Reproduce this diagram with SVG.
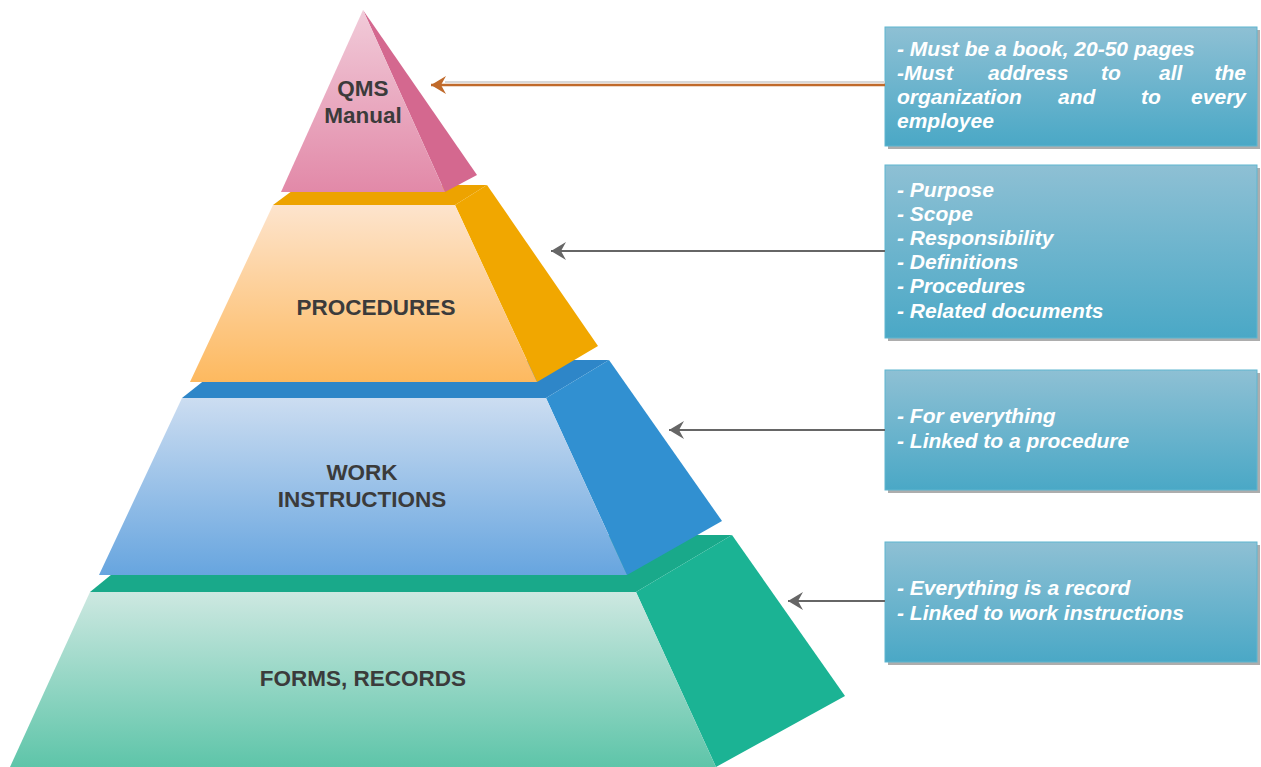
<svg xmlns="http://www.w3.org/2000/svg" width="1261" height="767" viewBox="0 0 1261 767">
  <defs>
    <linearGradient id="gPink" x1="0" y1="0" x2="0" y2="1">
      <stop offset="0" stop-color="#f1cbd9"/>
      <stop offset="1" stop-color="#e289a8"/>
    </linearGradient>
    <linearGradient id="gOrange" x1="0" y1="0" x2="0" y2="1">
      <stop offset="0" stop-color="#fde4cd"/>
      <stop offset="1" stop-color="#fdb95f"/>
    </linearGradient>
    <linearGradient id="gBlue" x1="0" y1="0" x2="0" y2="1">
      <stop offset="0" stop-color="#ccddf1"/>
      <stop offset="1" stop-color="#67a5df"/>
    </linearGradient>
    <linearGradient id="gGreen" x1="0" y1="0" x2="0" y2="1">
      <stop offset="0" stop-color="#cde8e1"/>
      <stop offset="1" stop-color="#5ec5a9"/>
    </linearGradient>
    <linearGradient id="gBox" x1="0" y1="0" x2="0" y2="1">
      <stop offset="0" stop-color="#8ec0d4"/>
      <stop offset="1" stop-color="#4aa8c6"/>
    </linearGradient>
    <marker id="arrGray" viewBox="0 0 20 20" refX="19" refY="10" markerWidth="20" markerHeight="20" markerUnits="userSpaceOnUse" orient="auto">
      <path d="M4,1 L19,10 L4,19 L9,10 Z" fill="#666666"/>
    </marker>
    <marker id="arrBrown" viewBox="0 0 20 20" refX="19" refY="10" markerWidth="20" markerHeight="20" markerUnits="userSpaceOnUse" orient="auto">
      <path d="M4,1 L19,10 L4,19 L9,10 Z" fill="#c06a2b"/>
    </marker>
  </defs>
  <style>
    .lbl { font-family: "Liberation Sans", Arial, sans-serif; font-weight: bold; font-size: 22.5px; fill: #3b3b3b; text-anchor: middle; }
    .note { font-family: "Liberation Sans", Arial, sans-serif; font-weight: bold; font-style: italic; font-size: 21px; fill: #ffffff; }
    .box { fill: url(#gBox); stroke: #5fb6d0; stroke-width: 1; }
    .shadow { fill: #8a8a8a; opacity: 0.7; }
    .conn { fill: none; stroke: #666666; stroke-width: 2; }
  </style>

  <!-- pyramid, drawn from the base upward so upper tiers overlap lower ones -->
  <g id="tier-forms">
    <polygon points="90,592 160,535 732,535 636,592" fill="#19a98a"/>
    <polygon points="636,592 732,535 845,696 716,767" fill="#1bb394"/>
    <polygon points="90,592 636,592 716,767 10,767" fill="url(#gGreen)"/>
    <text class="lbl" x="363" y="686">FORMS, RECORDS</text>
  </g>

  <g id="tier-work">
    <polygon points="182,398 230,360 609,360 546,398" fill="#2e86c8"/>
    <polygon points="546,398 609,360 722,521 627,575" fill="#3190d1"/>
    <polygon points="182,398 546,398 627,575 99,575" fill="url(#gBlue)"/>
    <text class="lbl" x="362" y="480">WORK</text>
    <text class="lbl" x="362" y="507">INSTRUCTIONS</text>
  </g>

  <g id="tier-procedures">
    <polygon points="273,205 300,185 487,185 455,205" fill="#eda300"/>
    <polygon points="455,205 487,185 598,346 537,382" fill="#f1a700"/>
    <polygon points="273,205 455,205 537,382 190,382" fill="url(#gOrange)"/>
    <text class="lbl" x="376" y="315">PROCEDURES</text>
  </g>

  <g id="tier-qms">
    <polygon points="363,10 477,175 445,192" fill="#d4688f"/>
    <polygon points="363,10 445,192 281,192" fill="url(#gPink)"/>
    <text class="lbl" x="363" y="96">QMS</text>
    <text class="lbl" x="363" y="123">Manual</text>
  </g>

  <!-- note boxes -->
  <g id="note-qms">
    <rect class="shadow" x="888" y="30" width="372" height="119"/>
    <rect class="box" x="885" y="27" width="372" height="119"/>
    <text class="note" x="897" y="56">- Must be a book, 20-50 pages</text>
    <text class="note" y="80"><tspan x="897">-Must</tspan><tspan x="988">address</tspan><tspan x="1101">to</tspan><tspan x="1159">all</tspan><tspan x="1246" text-anchor="end">the</tspan></text>
    <text class="note" y="104"><tspan x="897">organization</tspan><tspan x="1058">and</tspan><tspan x="1141">to</tspan><tspan x="1246" text-anchor="end">every</tspan></text>
    <text class="note" x="897" y="128">employee</text>
  </g>

  <g id="note-procedures">
    <rect class="shadow" x="888" y="168" width="372" height="173"/>
    <rect class="box" x="885" y="165" width="372" height="173"/>
    <text class="note" x="897" y="197">- Purpose</text>
    <text class="note" x="897" y="221">- Scope</text>
    <text class="note" x="897" y="245">- Responsibility</text>
    <text class="note" x="897" y="269">- Definitions</text>
    <text class="note" x="897" y="293">- Procedures</text>
    <text class="note" x="897" y="318">- Related documents</text>
  </g>

  <g id="note-work">
    <rect class="shadow" x="888" y="373" width="372" height="120"/>
    <rect class="box" x="885" y="370" width="372" height="120"/>
    <text class="note" x="897" y="423">- For everything</text>
    <text class="note" x="897" y="448">- Linked to a procedure</text>
  </g>

  <g id="note-forms">
    <rect class="shadow" x="888" y="545" width="372" height="120"/>
    <rect class="box" x="885" y="542" width="372" height="120"/>
    <text class="note" x="897" y="595">- Everything is a record</text>
    <text class="note" x="897" y="620">- Linked to work instructions</text>
  </g>

  <!-- connectors from notes to tiers -->
  <g id="connectors">
    <line x1="885" y1="82" x2="445" y2="82" stroke="#d8d8d8" stroke-width="2"/>
    <line x1="885" y1="85" x2="431" y2="85" stroke="#c06a2b" stroke-width="2.5" marker-end="url(#arrBrown)"/>
    <line class="conn" x1="885" y1="251" x2="551" y2="251" marker-end="url(#arrGray)"/>
    <line class="conn" x1="885" y1="430" x2="669" y2="430" marker-end="url(#arrGray)"/>
    <line class="conn" x1="885" y1="601" x2="788" y2="601" marker-end="url(#arrGray)"/>
  </g>
</svg>
